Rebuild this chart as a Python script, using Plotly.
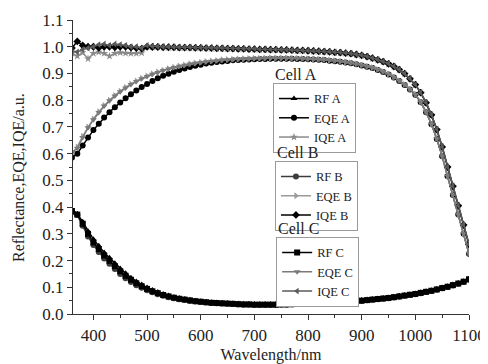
import plotly.graph_objects as go

wavelength = list(range(360, 1101, 10))

rf_a = [0.390, 0.375, 0.345, 0.310, 0.280, 0.255, 0.230, 0.210, 0.190, 0.170,
        0.152, 0.136, 0.122, 0.110, 0.099, 0.090, 0.082, 0.075, 0.069, 0.064,
        0.060, 0.056, 0.053, 0.050, 0.048, 0.046, 0.044, 0.043, 0.042, 0.041,
        0.040, 0.039, 0.038, 0.038, 0.037, 0.037, 0.037, 0.037, 0.037, 0.038,
        0.038, 0.039, 0.040, 0.040, 0.041, 0.042, 0.043, 0.044, 0.045, 0.046,
        0.047, 0.048, 0.050, 0.051, 0.052, 0.054, 0.056, 0.058, 0.060, 0.062,
        0.065, 0.068, 0.071, 0.074, 0.077, 0.081, 0.085, 0.089, 0.094, 0.099,
        0.104, 0.110, 0.116, 0.123, 0.132]
eqe_a = [0.585, 0.600, 0.630, 0.660, 0.688, 0.712, 0.735, 0.755, 0.774, 0.791,
         0.807, 0.822, 0.836, 0.849, 0.861, 0.872, 0.882, 0.891, 0.899, 0.906,
         0.913, 0.919, 0.924, 0.929, 0.933, 0.937, 0.940, 0.943, 0.945, 0.947,
         0.949, 0.950, 0.951, 0.952, 0.953, 0.954, 0.954, 0.955, 0.955, 0.955,
         0.955, 0.955, 0.954, 0.954, 0.953, 0.952, 0.951, 0.950, 0.948, 0.946,
         0.944, 0.941, 0.938, 0.934, 0.930, 0.925, 0.920, 0.913, 0.905, 0.896,
         0.885, 0.872, 0.857, 0.840, 0.820, 0.792, 0.755, 0.710, 0.655, 0.590,
         0.515, 0.445, 0.372, 0.300, 0.225]
iqe_a = [0.975, 0.965, 0.978, 0.955, 0.975, 0.980, 0.975, 0.965, 0.975, 0.978,
         0.976, 0.975, 0.975, 0.977, 1.000, 0.999, 0.999, 0.998, 0.997, 0.997,
         0.996, 0.996, 0.996, 0.995, 0.995, 0.994, 0.994, 0.993, 0.993, 0.992,
         0.992, 0.991, 0.991, 0.990, 0.990, 0.989, 0.989, 0.988, 0.988, 0.987,
         0.987, 0.986, 0.985, 0.985, 0.984, 0.983, 0.982, 0.981, 0.980, 0.978,
         0.977, 0.975, 0.973, 0.970, 0.967, 0.962, 0.956, 0.950, 0.943, 0.935,
         0.925, 0.913, 0.898, 0.879, 0.857, 0.827, 0.789, 0.744, 0.689, 0.624,
         0.549, 0.477, 0.404, 0.332, 0.258]

rf_b = [0.380, 0.370, 0.330, 0.290, 0.258, 0.232, 0.208, 0.188, 0.168, 0.150,
        0.134, 0.120, 0.108, 0.098, 0.089, 0.081, 0.074, 0.068, 0.063, 0.059,
        0.055, 0.052, 0.049, 0.047, 0.045, 0.043, 0.041, 0.040, 0.039, 0.038,
        0.037, 0.036, 0.035, 0.035, 0.034, 0.034, 0.034, 0.034, 0.034, 0.035,
        0.035, 0.036, 0.037, 0.037, 0.038, 0.039, 0.040, 0.041, 0.042, 0.043,
        0.044, 0.045, 0.047, 0.048, 0.049, 0.051, 0.053, 0.055, 0.057, 0.059,
        0.062, 0.065, 0.068, 0.071, 0.074, 0.078, 0.082, 0.086, 0.091, 0.096,
        0.101, 0.107, 0.113, 0.120, 0.128]
eqe_b = [0.600, 0.625, 0.665, 0.700, 0.730, 0.757, 0.780, 0.800, 0.818, 0.834,
         0.848, 0.861, 0.872, 0.882, 0.891, 0.899, 0.906, 0.912, 0.918, 0.923,
         0.928, 0.932, 0.936, 0.939, 0.942, 0.945, 0.947, 0.949, 0.951, 0.952,
         0.953, 0.954, 0.955, 0.956, 0.957, 0.957, 0.958, 0.958, 0.958, 0.958,
         0.958, 0.957, 0.957, 0.956, 0.955, 0.954, 0.953, 0.952, 0.950, 0.948,
         0.946, 0.943, 0.940, 0.936, 0.932, 0.927, 0.922, 0.915, 0.907, 0.898,
         0.887, 0.874, 0.859, 0.842, 0.822, 0.794, 0.757, 0.712, 0.657, 0.592,
         0.517, 0.447, 0.374, 0.302, 0.228]
iqe_b = [0.995, 1.020, 1.005, 1.000, 1.000, 0.996, 1.000, 1.000, 0.998, 1.000,
         1.000, 0.997, 0.995, 0.993, 1.000, 0.999, 0.999, 0.998, 0.998, 0.998,
         0.997, 0.997, 0.997, 0.996, 0.996, 0.995, 0.995, 0.994, 0.994, 0.993,
         0.993, 0.992, 0.992, 0.991, 0.991, 0.990, 0.990, 0.989, 0.989, 0.988,
         0.988, 0.987, 0.986, 0.986, 0.985, 0.984, 0.983, 0.982, 0.981, 0.979,
         0.978, 0.976, 0.974, 0.971, 0.968, 0.963, 0.957, 0.951, 0.944, 0.936,
         0.926, 0.914, 0.899, 0.880, 0.858, 0.828, 0.790, 0.745, 0.690, 0.625,
         0.550, 0.478, 0.405, 0.333, 0.260]

rf_c = [0.385, 0.372, 0.338, 0.300, 0.268, 0.243, 0.219, 0.199, 0.179, 0.160,
        0.143, 0.128, 0.115, 0.104, 0.094, 0.085, 0.078, 0.071, 0.066, 0.061,
        0.057, 0.054, 0.051, 0.048, 0.046, 0.044, 0.042, 0.041, 0.040, 0.039,
        0.038, 0.037, 0.036, 0.036, 0.035, 0.035, 0.035, 0.035, 0.035, 0.036,
        0.036, 0.037, 0.038, 0.038, 0.039, 0.040, 0.041, 0.042, 0.043, 0.044,
        0.045, 0.046, 0.048, 0.049, 0.050, 0.052, 0.054, 0.056, 0.058, 0.060,
        0.063, 0.066, 0.069, 0.072, 0.075, 0.079, 0.083, 0.087, 0.092, 0.097,
        0.102, 0.108, 0.114, 0.121, 0.130]
eqe_c = [0.605, 0.620, 0.660, 0.697, 0.727, 0.754, 0.778, 0.798, 0.816, 0.832,
         0.846, 0.859, 0.870, 0.880, 0.889, 0.897, 0.904, 0.911, 0.917, 0.922,
         0.927, 0.931, 0.935, 0.938, 0.941, 0.944, 0.946, 0.948, 0.950, 0.951,
         0.952, 0.953, 0.954, 0.955, 0.956, 0.956, 0.957, 0.957, 0.957, 0.957,
         0.957, 0.956, 0.956, 0.955, 0.954, 0.953, 0.952, 0.951, 0.949, 0.947,
         0.945, 0.942, 0.939, 0.935, 0.931, 0.926, 0.921, 0.914, 0.906, 0.897,
         0.886, 0.873, 0.858, 0.841, 0.821, 0.793, 0.756, 0.711, 0.656, 0.591,
         0.516, 0.446, 0.373, 0.301, 0.226]
iqe_c = [0.985, 0.980, 0.990, 0.995, 1.000, 1.008, 1.010, 1.005, 1.010, 1.008,
         1.005, 1.000, 1.000, 0.995, 1.005, 1.002, 1.001, 1.000, 1.000, 0.999,
         0.998, 0.998, 0.998, 0.997, 0.997, 0.996, 0.996, 0.995, 0.995, 0.994,
         0.994, 0.993, 0.993, 0.992, 0.992, 0.991, 0.991, 0.990, 0.990, 0.989,
         0.989, 0.988, 0.987, 0.987, 0.986, 0.985, 0.984, 0.983, 0.982, 0.980,
         0.979, 0.977, 0.975, 0.972, 0.969, 0.964, 0.958, 0.952, 0.945, 0.937,
         0.927, 0.915, 0.900, 0.881, 0.859, 0.829, 0.791, 0.746, 0.691, 0.626,
         0.551, 0.479, 0.406, 0.334, 0.262]

series_names = ["RF A", "EQE A", "IQE A", "RF B", "EQE B", "IQE B", "RF C", "EQE C", "IQE C"]
series_values = [rf_a, eqe_a, iqe_a, rf_b, eqe_b, iqe_b, rf_c, eqe_c, iqe_c]
symbols = ["triangle-up", "circle", "star", "circle", "triangle-right", "diamond",
           "square", "triangle-down", "triangle-left"]
colors = ["#000000", "#000000", "#8a8a8a", "#3c3c3c", "#9a9a9a", "#000000",
          "#000000", "#7a7a7a", "#5a5a5a"]
legends = ["legend", "legend", "legend", "legend2", "legend2", "legend2",
           "legend3", "legend3", "legend3"]
group_titles = ["Cell A", "Cell B", "Cell C"]

FONT = "Liberation Serif, Times New Roman, serif"

fig = go.Figure()
for name, vals, sym, col, lg in zip(series_names, series_values, symbols, colors, legends):
    fig.add_trace(go.Scatter(
        x=wavelength, y=vals, name=name, mode="lines+markers",
        line=dict(color=col, width=1.5),
        marker=dict(symbol=sym, size=6, color=col),
        legend=lg,
    ))

legend_style = dict(
    xanchor="left", yanchor="top",
    bgcolor="white", bordercolor="#9a9a9a", borderwidth=1,
    font=dict(family=FONT, size=12.5, color="#222"),
    tracegroupgap=0, itemwidth=30,
)

# page body has an 8px margin, so the figure is sized/shifted to compensate
fig.update_layout(
    width=480, height=356,
    margin=dict(l=65, r=19, t=12, b=50),
    paper_bgcolor="white", plot_bgcolor="white",
    font=dict(family=FONT, size=17, color="#222"),
    legend=dict(x=0.505, y=0.786, **legend_style),
    legend2=dict(x=0.510, y=0.521, **legend_style),
    legend3=dict(x=0.513, y=0.262, **legend_style),
    xaxis=dict(
        range=[362, 1100], tickvals=[400, 500, 600, 700, 800, 900, 1000, 1100],
        showgrid=False, zeroline=False, showline=True, linecolor="#333", linewidth=1.2,
        ticks="outside", ticklen=5, tickcolor="#333",
        minor=dict(ticks="outside", ticklen=3, dtick=50, tick0=350, tickcolor="#333"),
        tickfont=dict(family=FONT, size=17, color="#222"),
        title=dict(text="Wavelength/nm", font=dict(family=FONT, size=16, color="#222"), standoff=8),
        automargin=False,
    ),
    yaxis=dict(
        range=[0, 1.1], tickvals=[0.0, 0.1, 0.2, 0.3, 0.4, 0.5, 0.6, 0.7, 0.8, 0.9, 1.0, 1.1],
        tickformat=".1f",
        showgrid=False, zeroline=False, showline=True, linecolor="#333", linewidth=1.2,
        ticks="outside", ticklen=5, tickcolor="#333",
        minor=dict(ticks="outside", ticklen=3, dtick=0.05, tickcolor="#333"),
        tickfont=dict(family=FONT, size=17, color="#222"),
        automargin=False,
    ),
)

fig.add_annotation(text="Reflectance,EQE,IQE/a.u.", textangle=-90,
                   x=-0.137, y=0.465, xref="paper", yref="paper",
                   xanchor="center", yanchor="middle", showarrow=False,
                   font=dict(family=FONT, size=16, color="#222"))

title_pos = [(0.505, 0.814), (0.510, 0.551), (0.513, 0.291)]
for t, (ax, ay) in zip(group_titles, title_pos):
    fig.add_annotation(text=t, x=ax, y=ay, xref="paper", yref="paper",
                       xanchor="left", yanchor="middle", showarrow=False,
                       font=dict(family=FONT, size=16, color="#222"))

fig.write_html("out.html")
